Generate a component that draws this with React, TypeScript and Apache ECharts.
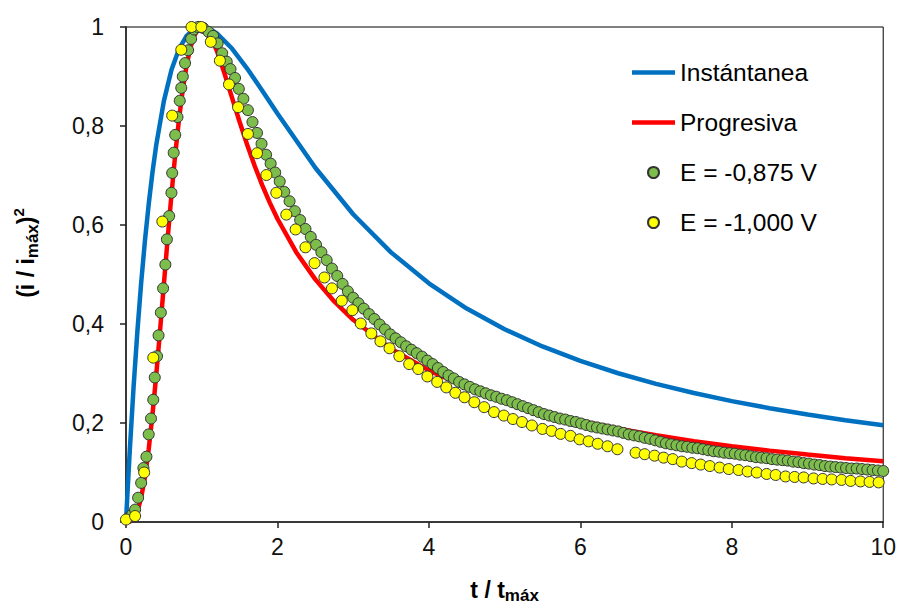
import React, { useEffect, useRef } from "react";
import * as echarts from "echarts";

// Theoretical curves
const instT = [0, 0.02, 0.05, 0.1, 0.15, 0.2, 0.25, 0.3, 0.35, 0.4, 0.5, 0.6, 0.7, 0.8, 0.9, 1.0, 1.1, 1.2, 1.4, 1.6, 1.8, 2, 2.5, 3, 3.5, 4, 4.5, 5, 5.5, 6, 6.5, 7, 7.5, 8, 8.5, 9, 9.5, 10];
const instY = [0, 0.0602, 0.1449, 0.2724, 0.3844, 0.4825, 0.568, 0.6422, 0.7068, 0.7624, 0.8503, 0.913, 0.9554, 0.9819, 0.9958, 1.0, 0.9965, 0.9872, 0.9565, 0.9161, 0.8712, 0.8252, 0.7156, 0.6217, 0.5447, 0.4822, 0.4312, 0.3894, 0.3546, 0.3254, 0.3005, 0.2791, 0.2605, 0.2442, 0.2299, 0.2171, 0.2057, 0.1954];

const progT = [0, 0.05, 0.1, 0.15, 0.2, 0.25, 0.3, 0.35, 0.4, 0.45, 0.5, 0.55, 0.6, 0.65, 0.7, 0.75, 0.8, 0.85, 0.9, 0.95, 1.0, 1.05, 1.1, 1.2, 1.3, 1.4, 1.5, 1.6, 1.7, 1.8, 1.9, 2, 2.25, 2.5, 2.75, 3, 3.5, 4, 4.5, 5, 5.5, 6, 6.5, 7, 7.5, 8, 8.5, 9, 9.5, 10];
const progY = [0, 0.0008, 0.0065, 0.0214, 0.0488, 0.0905, 0.1469, 0.217, 0.298, 0.387, 0.4797, 0.5723, 0.6608, 0.7421, 0.8137, 0.8739, 0.9221, 0.9579, 0.9822, 0.9958, 1.0, 0.9963, 0.9861, 0.9518, 0.9066, 0.8574, 0.8085, 0.762, 0.7191, 0.6801, 0.6447, 0.6126, 0.5446, 0.4902, 0.4456, 0.4085, 0.3501, 0.3064, 0.2723, 0.2451, 0.2228, 0.2042, 0.1885, 0.1751, 0.1634, 0.1532, 0.1442, 0.1362, 0.129, 0.1225];

// E = -0,875 V
const greenT = [0.03, 0.08, 0.12, 0.16, 0.2, 0.23, 0.27, 0.3, 0.33, 0.36, 0.38, 0.41, 0.43, 0.46, 0.49, 0.52, 0.54, 0.57, 0.6, 0.61, 0.63, 0.65, 0.68, 0.71, 0.73, 0.75, 0.78, 0.82, 0.86, 0.9, 0.95, 1.02, 1.09, 1.15, 1.21, 1.27, 1.33, 1.38, 1.44, 1.49, 1.55, 1.61, 1.67, 1.73, 1.79, 1.85, 1.91, 1.97, 2.03, 2.09, 2.16, 2.23, 2.3, 2.37, 2.44, 2.51, 2.58, 2.65, 2.72, 2.79, 2.86, 2.93, 3.0, 3.07, 3.14, 3.21, 3.28, 3.35, 3.42, 3.49, 3.56, 3.63, 3.7, 3.77, 3.84, 3.91, 3.98, 4.05, 4.12, 4.19, 4.26, 4.33, 4.4, 4.47, 4.54, 4.61, 4.68, 4.75, 4.82, 4.89, 4.96, 5.03, 5.1, 5.17, 5.24, 5.31, 5.38, 5.45, 5.52, 5.59, 5.66, 5.73, 5.8, 5.87, 5.94, 6.01, 6.08, 6.15, 6.22, 6.29, 6.36, 6.43, 6.5, 6.57, 6.64, 6.71, 6.78, 6.85, 6.92, 6.99, 7.06, 7.13, 7.2, 7.27, 7.34, 7.41, 7.48, 7.55, 7.62, 7.69, 7.76, 7.83, 7.9, 7.97, 8.04, 8.11, 8.18, 8.25, 8.32, 8.39, 8.46, 8.53, 8.6, 8.67, 8.74, 8.81, 8.88, 8.95, 9.02, 9.09, 9.16, 9.23, 9.3, 9.37, 9.44, 9.51, 9.58, 9.65, 9.72, 9.79, 9.86, 9.93, 10.0];
const greenY = [0.008, 0.015, 0.025, 0.049, 0.079, 0.109, 0.132, 0.177, 0.209, 0.247, 0.292, 0.335, 0.377, 0.423, 0.472, 0.52, 0.571, 0.618, 0.665, 0.705, 0.746, 0.782, 0.818, 0.851, 0.877, 0.9, 0.927, 0.953, 0.976, 0.995, 1.0, 0.998, 0.99, 0.982, 0.967, 0.947, 0.93, 0.915, 0.897, 0.875, 0.855, 0.832, 0.808, 0.786, 0.764, 0.742, 0.724, 0.706, 0.688, 0.667, 0.648, 0.628, 0.61, 0.592, 0.576, 0.56, 0.545, 0.529, 0.512, 0.497, 0.481, 0.466, 0.453, 0.442, 0.431, 0.42, 0.41, 0.399, 0.389, 0.379, 0.371, 0.363, 0.355, 0.348, 0.341, 0.334, 0.326, 0.319, 0.311, 0.303, 0.296, 0.29, 0.283, 0.278, 0.273, 0.268, 0.264, 0.26, 0.256, 0.253, 0.249, 0.246, 0.242, 0.238, 0.234, 0.23, 0.226, 0.222, 0.218, 0.215, 0.212, 0.209, 0.207, 0.204, 0.202, 0.199, 0.196, 0.193, 0.191, 0.189, 0.187, 0.185, 0.183, 0.18, 0.177, 0.175, 0.173, 0.17, 0.168, 0.165, 0.162, 0.159, 0.157, 0.155, 0.153, 0.152, 0.15, 0.149, 0.147, 0.145, 0.143, 0.142, 0.14, 0.139, 0.138, 0.136, 0.135, 0.133, 0.131, 0.13, 0.129, 0.127, 0.126, 0.125, 0.124, 0.122, 0.121, 0.119, 0.118, 0.116, 0.115, 0.113, 0.112, 0.111, 0.11, 0.109, 0.108, 0.108, 0.107, 0.106, 0.105, 0.104, 0.103];

// E = -1,000 V
const yellowT = [0.0, 0.12, 0.24, 0.36, 0.48, 0.61, 0.73, 0.865, 0.995, 1.12, 1.24, 1.36, 1.48, 1.61, 1.73, 1.854, 1.985, 2.117, 2.24, 2.37, 2.49, 2.62, 2.72, 2.85, 2.99, 3.1, 3.24, 3.36, 3.48, 3.61, 3.74, 3.86, 3.98, 4.11, 4.23, 4.35, 4.47, 4.6, 4.73, 4.86, 4.99, 5.11, 5.23, 5.36, 5.5, 5.62, 5.74, 5.87, 5.99, 6.11, 6.23, 6.36, 6.49, 6.73, 6.85, 6.98, 7.1, 7.22, 7.34, 7.47, 7.59, 7.71, 7.84, 7.96, 8.09, 8.21, 8.33, 8.46, 8.58, 8.71, 8.83, 8.95, 9.08, 9.2, 9.32, 9.45, 9.57, 9.7, 9.82, 9.94];
const yellowY = [0.005, 0.012, 0.1, 0.332, 0.607, 0.821, 0.954, 1.0, 1.0, 0.97, 0.932, 0.884, 0.838, 0.784, 0.745, 0.701, 0.665, 0.621, 0.591, 0.555, 0.523, 0.494, 0.472, 0.447, 0.428, 0.401, 0.381, 0.365, 0.351, 0.335, 0.319, 0.309, 0.294, 0.283, 0.272, 0.261, 0.252, 0.242, 0.232, 0.222, 0.215, 0.208, 0.202, 0.195, 0.188, 0.184, 0.178, 0.174, 0.167, 0.163, 0.158, 0.153, 0.147, 0.14, 0.137, 0.134, 0.13, 0.127, 0.122, 0.119, 0.116, 0.113, 0.11, 0.107, 0.105, 0.102, 0.1, 0.097, 0.095, 0.092, 0.091, 0.09, 0.088, 0.087, 0.086, 0.085, 0.083, 0.082, 0.081, 0.08];

const xTicks = { min: 0, max: 10, interval: 2 };
const yTicks = { min: 0, max: 1, interval: 0.2 };

const FONT = "'Liberation Sans', Arial, sans-serif";
const LINE_ICON = "path://M0,0 H40 V4 H0 Z";

const pairs = (xs: number[], ys: number[]) => xs.map((x, i) => [x, ys[i]]);

export default function App() {
  const ref = useRef<HTMLDivElement>(null);
  useEffect(() => {
    if (!ref.current) return;
    const chart = echarts.init(ref.current, undefined, { renderer: "svg" });
    const markerStyle = (color: string) => ({ color, borderColor: "#333", borderWidth: 1, opacity: 1 });
    chart.setOption({
      animation: false,
      backgroundColor: "#fff",
      grid: { left: 126, right: 14, top: 27, bottom: 81, show: true, borderColor: "#000", borderWidth: 1 },
      xAxis: {
        type: "value",
        ...xTicks,
        axisLine: { show: true, onZero: false, lineStyle: { color: "#222", width: 1.5 } },
        axisTick: { show: true, inside: false, length: 6, lineStyle: { color: "#222", width: 1.5 } },
        axisLabel: { fontSize: 23, color: "#111", fontFamily: FONT, margin: 13 },
        splitLine: { show: false },
        name: "{a|t / t}{b|máx}",
        nameLocation: "middle",
        nameGap: 54,
        nameTextStyle: {
          rich: {
            a: { fontSize: 23, fontWeight: "bold", fontFamily: FONT, color: "#000", lineHeight: 28 },
            b: { fontSize: 17, fontWeight: "bold", fontFamily: FONT, color: "#000", lineHeight: 17, verticalAlign: "bottom" },
          },
        },
      },
      yAxis: {
        type: "value",
        ...yTicks,
        axisLine: { show: true, onZero: false, lineStyle: { color: "#222", width: 1.5 } },
        axisTick: { show: true, inside: false, length: 6, lineStyle: { color: "#222", width: 1.5 } },
        axisLabel: {
          fontSize: 23,
          color: "#111",
          fontFamily: FONT,
          margin: 22,
          formatter: (v: number) => String(Math.round(v * 10) / 10).replace(".", ","),
        },
        splitLine: { show: false },
      },
      graphic: [
        {
          type: "text",
          x: 26,
          y: 253,
          rotation: Math.PI / 2,
          style: {
            text: "{a|(i / i}{b|máx}{a|)}{c|2}",
            align: "center",
            verticalAlign: "middle",
            rich: {
              a: { fontSize: 23, fontWeight: "bold", fontFamily: FONT, fill: "#000", lineHeight: 30 },
              b: { fontSize: 17, fontWeight: "bold", fontFamily: FONT, fill: "#000", lineHeight: 17, verticalAlign: "bottom" },
              c: { fontSize: 15, fontWeight: "bold", fontFamily: FONT, fill: "#000", lineHeight: 15, verticalAlign: "top" },
            },
          },
        },
      ],
      legend: {
        orient: "vertical",
        left: 627,
        top: 55,
        itemWidth: 43,
        itemHeight: 11,
        itemGap: 25,
        textStyle: { fontSize: 24.5, color: "#000", fontFamily: FONT },
        data: [
          { name: "Instántanea", icon: LINE_ICON },
          { name: "Progresiva", icon: LINE_ICON },
          { name: "E = -0,875 V" },
          { name: "E = -1,000 V" },
        ],
      },
      series: [
        {
          name: "Instántanea",
          type: "line",
          data: pairs(instT, instY),
          showSymbol: false,
          symbol: "none",
          smooth: false,
          lineStyle: { color: "#0070c0", width: 4.5 },
          itemStyle: { color: "#0070c0" },
          z: 2,
        },
        {
          name: "Progresiva",
          type: "line",
          data: pairs(progT, progY),
          showSymbol: false,
          symbol: "none",
          smooth: false,
          lineStyle: { color: "#ff0000", width: 4.5 },
          itemStyle: { color: "#ff0000" },
          z: 2,
        },
        {
          name: "E = -0,875 V",
          type: "scatter",
          data: pairs(greenT, greenY),
          symbol: "circle",
          symbolSize: 11,
          itemStyle: markerStyle("#7cbd4b"),
          clip: false,
          z: 3,
        },
        {
          name: "E = -1,000 V",
          type: "scatter",
          data: pairs(yellowT, yellowY),
          symbol: "circle",
          symbolSize: 11,
          itemStyle: markerStyle("#ffff00"),
          clip: false,
          z: 4,
        },
      ],
    });
    return () => chart.dispose();
  }, []);
  return (
    <div
      ref={ref}
      style={{ position: "fixed", left: 0, top: 0, width: 899, height: 609, background: "#fff" }}
    />
  );
}
